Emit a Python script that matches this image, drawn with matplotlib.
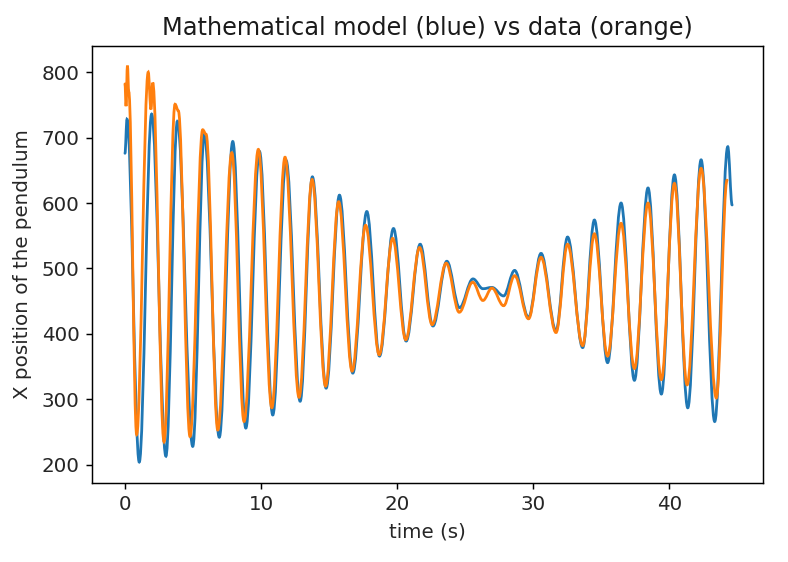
import matplotlib
matplotlib.use("Agg")
import matplotlib.pyplot as plt
from matplotlib.path import Path
from matplotlib.patches import PathPatch

# turning points (time in s, x position)
model_t = [0.0, 0.15, 1.05, 1.96, 3.01, 3.85, 4.98, 5.83, 6.93, 7.92, 8.88, 9.88,
           10.86, 11.84, 12.87, 13.77, 14.78, 15.76, 16.74, 17.77, 18.70, 19.73,
           20.66, 21.69, 22.63, 23.65, 24.58, 25.57, 26.30, 26.96, 27.82, 28.63,
           29.65, 30.57, 31.67, 32.52, 33.63, 34.49, 35.46, 36.45, 37.43, 38.43,
           39.41, 40.37, 41.35, 42.33, 43.33, 44.29, 44.61]
model_x = [676, 728, 204, 736, 213, 725, 228, 705, 242, 694, 256, 679,
           276, 665, 297, 640, 317, 612, 340, 587, 366, 561,
           389, 537, 412, 511, 440, 484, 469, 471, 458, 497,
           425, 523, 405, 548, 379, 574, 356, 600, 329, 623,
           308, 643, 287, 666, 266, 686, 597]

data_t = [0.0, 0.08, 0.18, 0.28, 0.86, 1.71, 1.91, 2.04, 2.87, 3.68, 3.92, 4.78,
          5.71, 5.96, 6.82, 7.85, 8.75, 9.80, 10.79, 11.76, 12.79, 13.75, 14.74,
          15.70, 16.69, 17.68, 18.68, 19.67, 20.63, 21.65, 22.57, 23.60, 24.56,
          25.55, 26.30, 26.96, 27.82, 28.63, 29.65, 30.57, 31.67, 32.52, 33.63,
          34.49, 35.46, 36.45, 37.43, 38.43, 39.41, 40.37, 41.30, 42.33, 43.45,
          44.24]
data_x = [782, 748, 810, 770, 246, 800, 743, 784, 235, 751, 741, 243,
          712, 705, 253, 677, 266, 682, 287, 670, 303, 636, 320,
          602, 343, 566, 368, 546, 391, 532, 414, 508, 433,
          479, 451, 470, 443, 489, 423, 517, 402, 537, 382,
          553, 366, 569, 347, 600, 330, 630, 322, 653, 302,
          635]


def smooth_path(t, x, k=0.364):
    # cubic segments with flat tangents at each turning point
    verts = [(t[0], x[0])]
    codes = [Path.MOVETO]
    for i in range(1, len(t)):
        dt = t[i] - t[i - 1]
        verts += [(t[i - 1] + k * dt, x[i - 1]), (t[i] - k * dt, x[i]), (t[i], x[i])]
        codes += [Path.CURVE4] * 3
    return Path(verts, codes)


fig = plt.figure(figsize=(7.88, 5.62), dpi=100)
ax = fig.add_axes([92.3 / 788, 1 - 482.7 / 562, (763.3 - 92.3) / 788, (482.7 - 46) / 562])

ax.add_patch(PathPatch(smooth_path(model_t, model_x), facecolor="none",
                       edgecolor="#1f77b4", lw=2, capstyle="round"))
ax.add_patch(PathPatch(smooth_path(data_t, data_x), facecolor="none",
                       edgecolor="#ff7f0e", lw=2, capstyle="round"))

ax.set_xlim(-2.4, 46.9)
ax.set_ylim(172.5, 840)
ax.set_xticks([0, 10, 20, 30, 40])
ax.set_yticks([200, 300, 400, 500, 600, 700, 800])

for s in ax.spines.values():
    s.set_linewidth(1.05)
ax.tick_params(labelsize=14.3, length=4.6, width=1.05, pad=4.6, labelcolor="#262626")

ax.set_xlabel("time (s)", fontsize=14.3, labelpad=6, color="#262626")
ax.set_ylabel("X position of the pendulum", fontsize=14.3, labelpad=7, color="#262626")
ax.set_title("Mathematical model (blue) vs data (orange)", fontsize=17.3, pad=8,
             color="#1a1a1a")

fig.savefig("out.png", dpi=100)
